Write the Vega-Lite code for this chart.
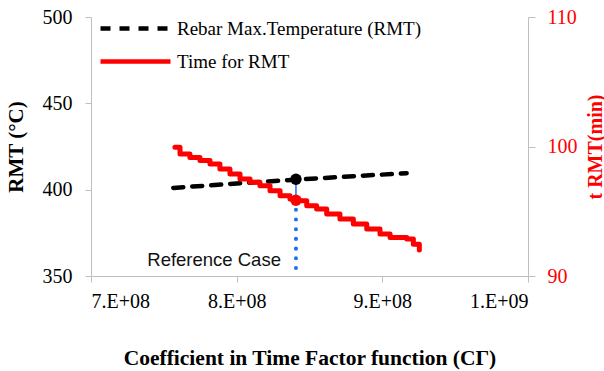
{
  "$schema": "https://vega.github.io/schema/vega-lite/v6.json",
  "width": 437,
  "height": 259,
  "autosize": {"type": "none"},
  "padding": {"left": 91, "top": 17, "right": 76, "bottom": 95},
  "background": "white",
  "config": {
    "view": {"stroke": null},
    "font": "Liberation Serif",
    "axis": {
      "grid": false,
      "domainColor": "#bfbfbf",
      "tickColor": "#bfbfbf",
      "labelFont": "Liberation Serif",
      "labelFontSize": 20,
      "labelColor": "black",
      "titleFont": "Liberation Serif",
      "titleFontSize": 20,
      "titleFontWeight": "bold",
      "titleColor": "black"
    }
  },
  "datasets": {
    "rmt": [
      {"C": 756500000, "T": 401.0, "series": "Rebar Max.Temperature (RMT)"},
      {"C": 800000000, "T": 403.6, "series": "Rebar Max.Temperature (RMT)"},
      {"C": 840700000, "T": 405.8, "series": "Rebar Max.Temperature (RMT)"},
      {"C": 880000000, "T": 407.8, "series": "Rebar Max.Temperature (RMT)"},
      {"C": 916700000, "T": 409.5, "series": "Rebar Max.Temperature (RMT)"}
    ],
    "time": [
      {"C": 757600000, "t": 99.94, "series": "Time for RMT"},
      {"C": 761100000, "t": 99.43, "series": "Time for RMT"},
      {"C": 767900000, "t": 99.16, "series": "Time for RMT"},
      {"C": 774800000, "t": 98.91, "series": "Time for RMT"},
      {"C": 781700000, "t": 98.65, "series": "Time for RMT"},
      {"C": 788500000, "t": 98.27, "series": "Time for RMT"},
      {"C": 795400000, "t": 97.88, "series": "Time for RMT"},
      {"C": 802300000, "t": 97.49, "series": "Time for RMT"},
      {"C": 809200000, "t": 97.23, "series": "Time for RMT"},
      {"C": 816000000, "t": 96.97, "series": "Time for RMT"},
      {"C": 822900000, "t": 96.59, "series": "Time for RMT"},
      {"C": 829800000, "t": 96.20, "series": "Time for RMT"},
      {"C": 836600000, "t": 95.94, "series": "Time for RMT"},
      {"C": 840700000, "t": 95.81, "series": "Time for RMT"},
      {"C": 848100000, "t": 95.43, "series": "Time for RMT"},
      {"C": 854900000, "t": 95.17, "series": "Time for RMT"},
      {"C": 861800000, "t": 94.78, "series": "Time for RMT"},
      {"C": 870900000, "t": 94.40, "series": "Time for RMT"},
      {"C": 880100000, "t": 94.01, "series": "Time for RMT"},
      {"C": 889300000, "t": 93.62, "series": "Time for RMT"},
      {"C": 898400000, "t": 93.24, "series": "Time for RMT"},
      {"C": 905300000, "t": 92.97, "series": "Time for RMT"},
      {"C": 916800000, "t": 92.85, "series": "Time for RMT"},
      {"C": 921300000, "t": 92.46, "series": "Time for RMT"},
      {"C": 925400000, "t": 92.00, "series": "Time for RMT"}
    ]
  },
  "encoding": {
    "x": {
      "field": "C",
      "type": "quantitative",
      "scale": {"domain": [700000000, 1000000000], "nice": false, "zero": false},
      "axis": {
        "values": [700000000, 800000000, 900000000, 1000000000],
        "labelExpr": "datum.value >= 1000000000 ? '1.E+09' : format(datum.value / 100000000, '.0f') + '.E+08'",
        "title": "Coefficient in Time Factor function (CΓ)",
        "labelFont": "Liberation Serif",
        "labelFontSize": 20,
        "tickSize": 6,
        "labelPadding": 9,
        "titlePadding": 36,
        "titleFontSize": 21.5
      }
    }
  },
  "layer": [
    {
      "encoding": {
        "y": {
          "field": "T",
          "type": "quantitative",
          "scale": {"domain": [350, 500], "nice": false, "zero": false},
          "axis": {
            "values": [350, 400, 450, 500],
            "title": "RMT (°C)",
            "orient": "left",
            "labelFont": "Liberation Serif",
            "labelFontSize": 20,
            "tickSize": 6,
            "labelPadding": 13,
            "titlePadding": 16,
            "titleFontSize": 21
          }
        }
      },
      "layer": [
        {
          "data": {"name": "rmt"},
          "mark": {"type": "line", "strokeWidth": 4.5, "strokeCap": "round"},
          "encoding": {
            "color": {
              "field": "series",
              "type": "nominal",
              "scale": {"range": ["black"]},
              "legend": {
                "title": null,
                "orient": "none",
                "legendX": 7,
                "legendY": -26,
                "symbolType": "stroke",
                "symbolSize": 4900,
                "symbolStrokeWidth": 4.5,
                "labelFont": "Liberation Serif",
                "labelFontSize": 19,
                "labelOffset": 4,
                "labelLimit": 400,
                "padding": 0
              }
            },
            "strokeDash": {
              "field": "series",
              "type": "nominal",
              "scale": {"range": [[10, 9]]},
              "legend": {
                "title": null,
                "orient": "none",
                "legendX": 7,
                "legendY": -26,
                "symbolType": "stroke",
                "symbolSize": 4900,
                "symbolStrokeWidth": 4.5,
                "labelFont": "Liberation Serif",
                "labelFontSize": 19,
                "labelOffset": 4,
                "labelLimit": 400,
                "padding": 0
              }
            }
          }
        },
        {
          "data": {"values": [{"C": 840700000, "T": 406.0, "T2": 394.0}]},
          "mark": {"type": "rule", "color": "#1c6ef2", "strokeWidth": 1.5},
          "encoding": {"y2": {"field": "T2"}}
        },
        {
          "data": {"values": [{"C": 840700000, "T": 394.0, "T2": 350.0}]},
          "mark": {"type": "rule", "color": "#1c6ef2", "strokeWidth": 4, "strokeDash": [0.1, 9.6], "strokeCap": "round"},
          "encoding": {"y2": {"field": "T2"}}
        },
        {
          "data": {"values": [{"C": 840700000, "T": 406.0}]},
          "mark": {"type": "point", "filled": true, "color": "black", "size": 130, "opacity": 1}
        },
        {
          "data": {"values": [{"C": 840700000, "T": 359.5, "label": "Reference Case"}]},
          "mark": {"type": "text", "font": "Liberation Sans", "fontSize": 18.5, "align": "right", "baseline": "middle", "dx": -15, "color": "#111111"},
          "encoding": {"text": {"field": "label"}}
        }
      ]
    },
    {
      "encoding": {
        "y": {
          "field": "t",
          "type": "quantitative",
          "scale": {"domain": [90, 110], "nice": false, "zero": false},
          "axis": {
            "values": [90, 100, 110],
            "title": "t RMT(min)",
            "orient": "right",
            "labelFont": "Liberation Serif",
            "labelFontSize": 20,
            "tickSize": 7,
            "labelPadding": 12,
            "labelColor": "#ff0000",
            "titleColor": "#ff0000",
            "titleAngle": -90,
            "titlePadding": 28,
            "titleFontSize": 20
          }
        }
      },
      "layer": [
        {
          "data": {"name": "time"},
          "mark": {"type": "line", "strokeWidth": 5, "interpolate": "step-after", "strokeCap": "round", "strokeJoin": "round"},
          "encoding": {
            "color": {
              "field": "series",
              "type": "nominal",
              "scale": {"range": ["#ff0000"]},
              "legend": {
                "title": null,
                "orient": "none",
                "legendX": 7,
                "legendY": 7,
                "symbolType": "stroke",
                "symbolSize": 4900,
                "symbolStrokeWidth": 4.5,
                "labelFont": "Liberation Serif",
                "labelFontSize": 19,
                "labelOffset": 4,
                "labelLimit": 400,
                "padding": 0
              }
            },
            "strokeDash": {
              "field": "series",
              "type": "nominal",
              "scale": {"range": [[1, 0]]},
              "legend": {
                "title": null,
                "orient": "none",
                "legendX": 7,
                "legendY": 7,
                "symbolType": "stroke",
                "symbolSize": 4900,
                "symbolStrokeWidth": 4.5,
                "labelFont": "Liberation Serif",
                "labelFontSize": 19,
                "labelOffset": 4,
                "labelLimit": 400,
                "padding": 0
              }
            }
          }
        },
        {
          "data": {"values": [{"C": 840700000, "t": 95.85}]},
          "mark": {"type": "point", "filled": true, "color": "#ff0000", "size": 130, "opacity": 1}
        }
      ]
    }
  ],
  "resolve": {"scale": {"y": "independent", "color": "independent", "strokeDash": "independent"}}
}
